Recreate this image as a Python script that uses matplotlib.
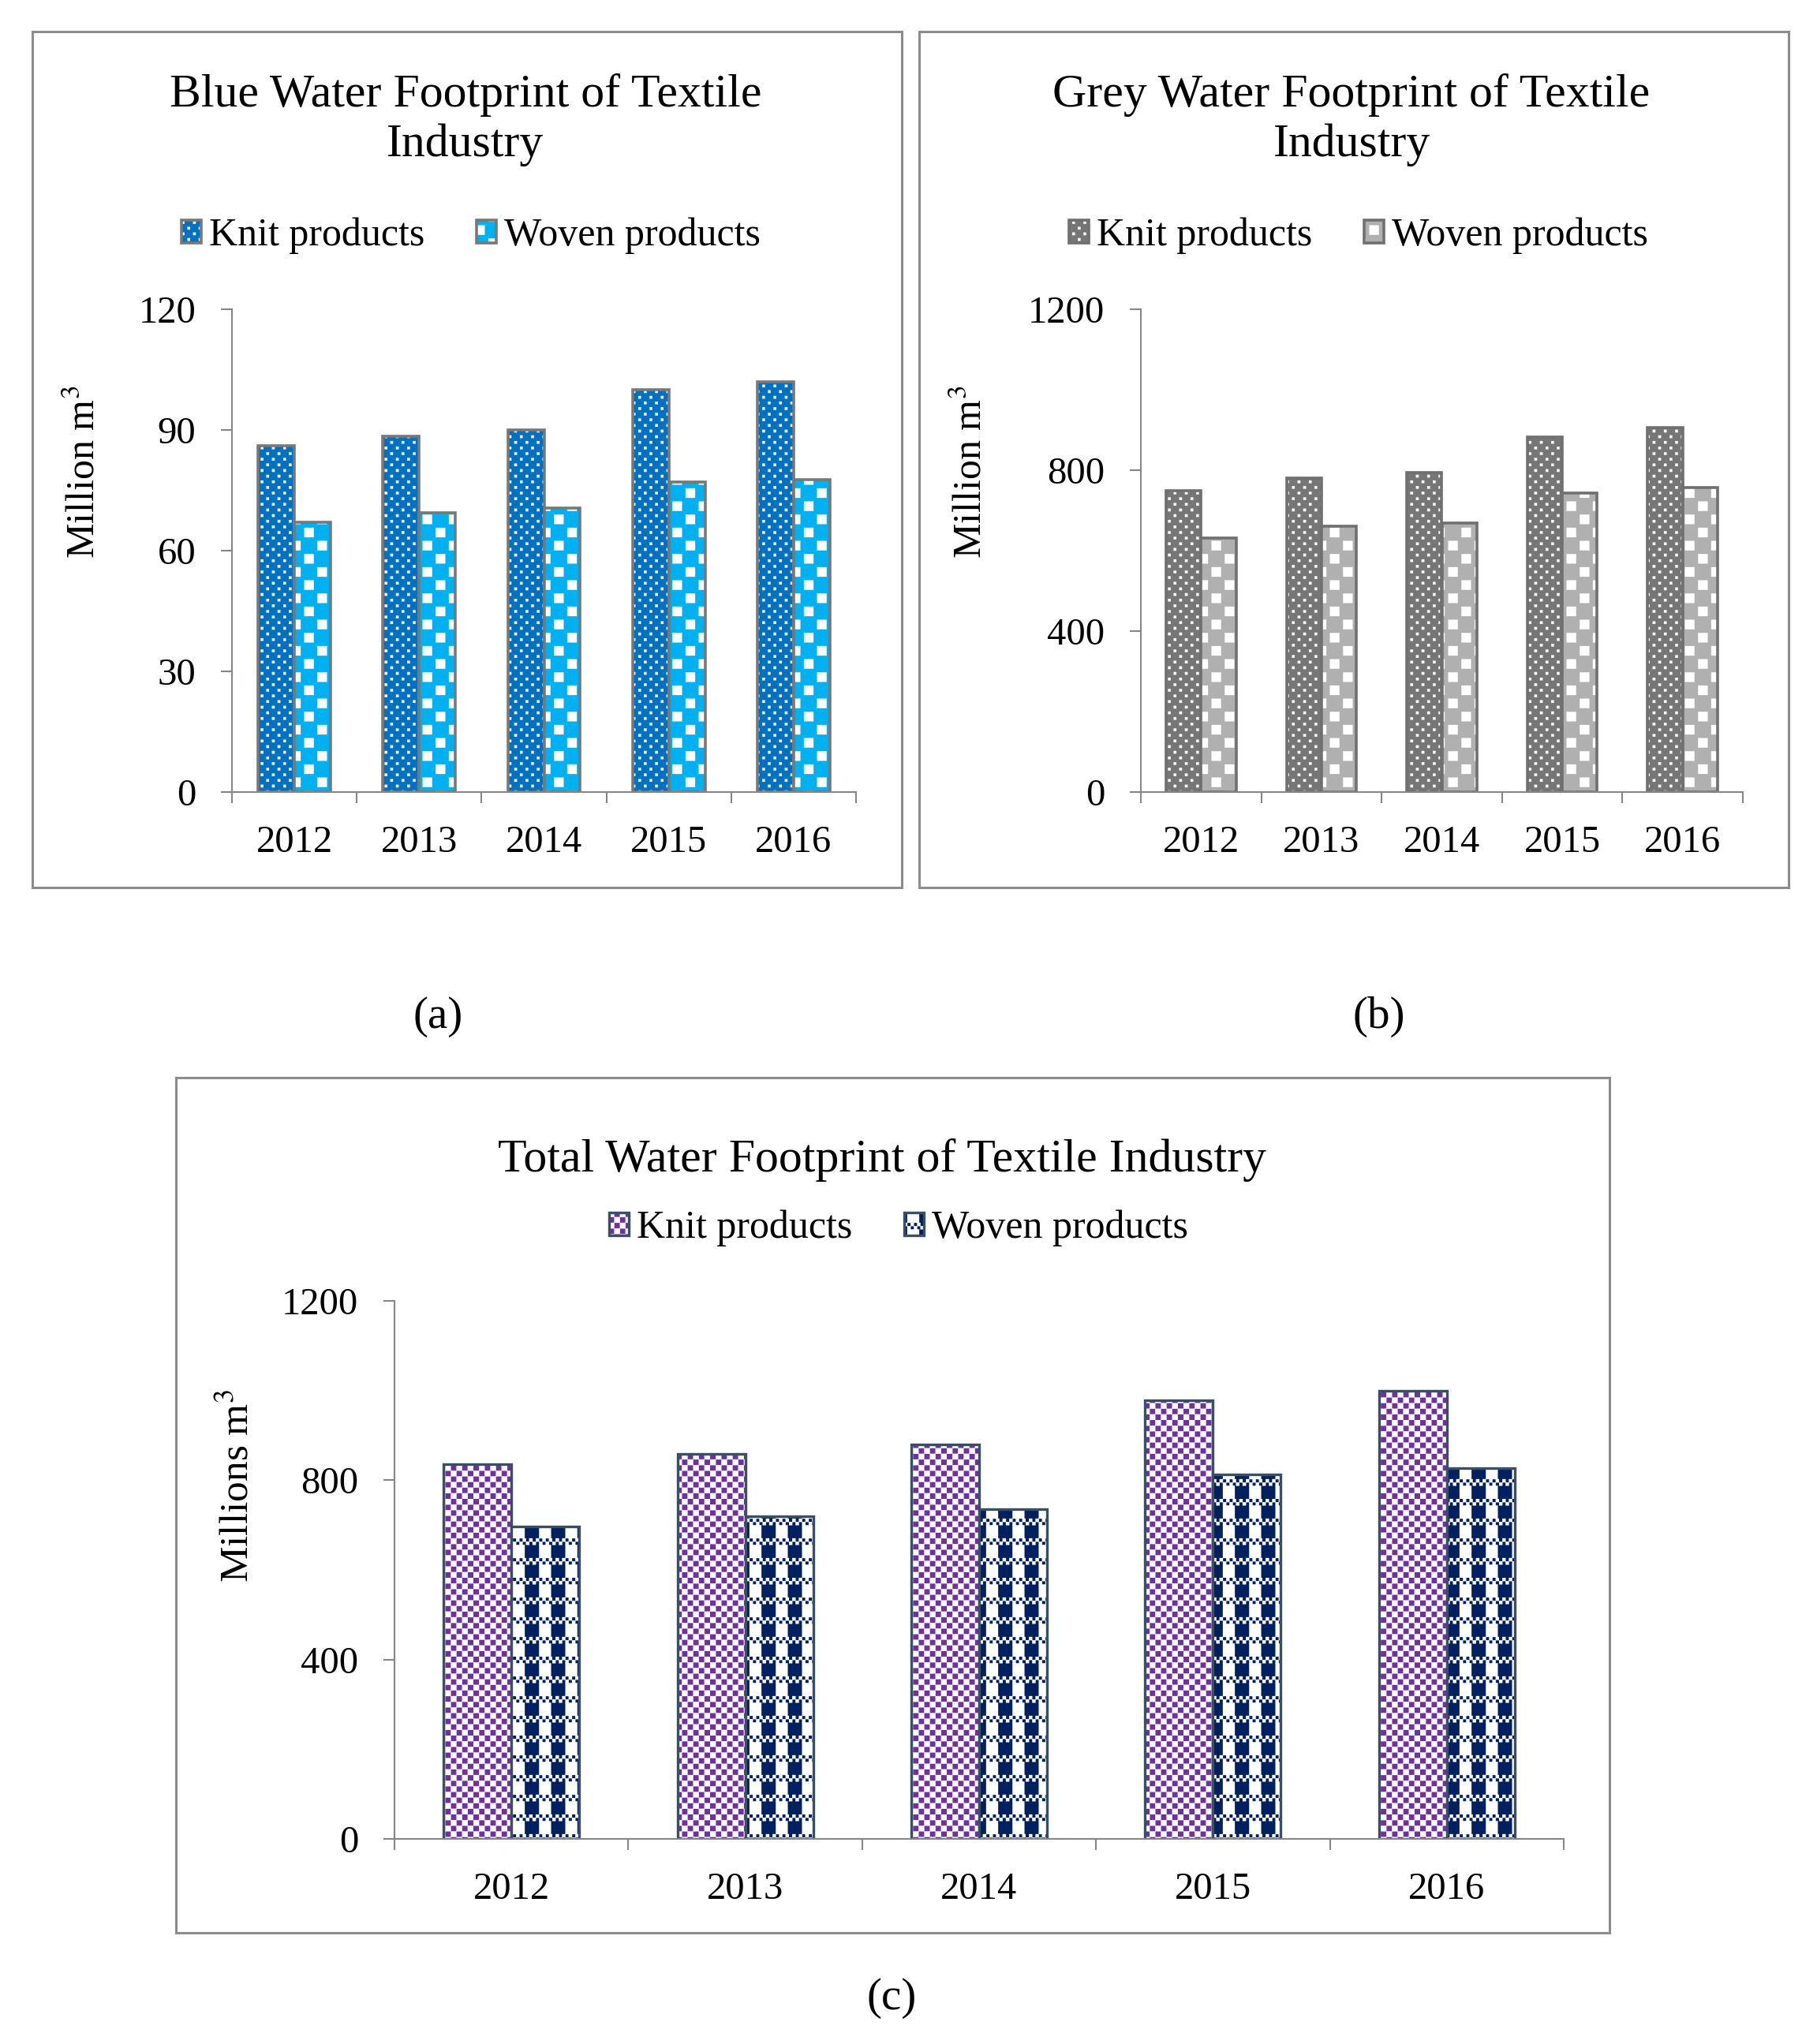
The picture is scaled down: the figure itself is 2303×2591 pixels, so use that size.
import numpy as np
import matplotlib
matplotlib.use("Agg")
import matplotlib.pyplot as plt
import matplotlib.hatch as mhatch
from matplotlib.patches import Rectangle
from matplotlib.path import Path

# ---- DATA ----
years = ["2012", "2013", "2014", "2015", "2016"]
series_names = ["Knit products", "Woven products"]

blue_knit = [86, 88.5, 90, 100, 102]
blue_woven = [67, 69.5, 70.5, 77, 77.7]

grey_knit = [750, 780, 794, 883, 905]
grey_woven = [632, 660, 669, 743, 757]

total_knit = [835, 859, 879, 978, 999]
total_woven = [696, 720, 735, 813, 827]

# ---- SETTINGS ----
W, H = 2303, 2591          # output size in pixels
DPI = 100
BAR_W = 0.29
AXIS_GREY = "#868686"
FRAME_GREY = "#8c8c8c"

plt.rcParams["font.family"] = ["Liberation Serif", "DejaVu Serif"]
plt.rcParams["mathtext.fontset"] = "stix"
plt.rcParams["hatch.linewidth"] = 0.2

# ---- Excel-like pattern fills ----
# hatch strings made only of "*" are drawn as white squares instead of stars
# (kind, cells per hatch tile, square size as part of a cell)
PATTERNS = {
    "*": ("checker", 14, 0.46),    # small dots
    "**": ("checker", 6, 0.72),    # large checks
    "***": ("checker", 14, 1.0),   # fine checker board
    "****": ("plaid", 3, 0.45),    # stripes with small check bands
}


class SquareFill(mhatch.HatchPatternBase):
    def __init__(self, hatch, density):
        kind, n, f = PATTERNS.get(hatch, (None, 0, 0))
        sq = []
        if kind == "checker":
            c = 1.0 / n
            for i in range(n):
                for j in range(n):
                    if (i + j) % 2 == 0:
                        sq.append(((i + 0.5 - f / 2) * c, (j + 0.5 - f / 2) * c, f * c, f * c))
        elif kind == "plaid":
            c = 1.0 / n
            rows = 4
            ch = 1.0 / rows
            s = c / 8
            for i in range(n):
                for j in range(rows):
                    y0 = j * ch
                    sq.append((i * c + c / 2, y0, f * c, ch - 2 * s))
                    for k in range(8):
                        sq.append((i * c + k * s, y0 + ch - 2 * s + (k % 2) * s, s, s))
        self.squares = sq
        self.num_vertices = 5 * len(sq)

    def set_vertices_and_codes(self, vertices, codes):
        for k, (x0, y0, w, h) in enumerate(self.squares):
            vertices[5 * k:5 * k + 5] = [(x0, y0), (x0 + w, y0), (x0 + w, y0 + h),
                                         (x0, y0 + h), (x0, y0)]
            codes[5 * k:5 * k + 5] = [Path.MOVETO, Path.LINETO, Path.LINETO,
                                      Path.LINETO, Path.CLOSEPOLY]


if hasattr(mhatch, "_hatch_types"):
    mhatch._hatch_types[:] = [t for t in mhatch._hatch_types if t is not mhatch.Stars] + [SquareFill]


# ---- helpers ----
def px_rect(x0, y_top, x1, y_bottom):
    return [x0 / W, 1 - y_bottom / H, (x1 - x0) / W, (y_bottom - y_top) / H]


def frame(x0, y_top, x1, y_bottom):
    fig.add_artist(Rectangle((x0 / W, 1 - y_bottom / H), (x1 - x0) / W, (y_bottom - y_top) / H,
                             transform=fig.transFigure, fill=False,
                             edgecolor=FRAME_GREY, linewidth=2.2))


def grouped_bars(ax, knit, woven, colors, hatches, edge, lw):
    x = np.arange(len(years))
    handles = []
    for offset, vals, color, hatch in zip((-BAR_W / 2, BAR_W / 2), (knit, woven), colors, hatches):
        # white pattern on coloured face (hatch colour follows edgecolor)
        fill = ax.bar(x + offset, vals, BAR_W, color=color, hatch=hatch,
                      edgecolor="white", linewidth=0)
        line = ax.bar(x + offset, vals, BAR_W, fill=False, edgecolor=edge, linewidth=lw)
        handles.append((fill, line))
    return handles


def style_axes(ax, ymax, step):
    ax.set_xlim(-0.5, len(years) - 0.5)
    ax.set_ylim(0, ymax)
    ax.set_yticks(np.arange(0, ymax + 1, step))
    ax.set_xticks(np.arange(-0.5, len(years), 1))
    ax.set_xticklabels([])
    ax.set_xticks(np.arange(len(years)), minor=True)
    ax.set_xticklabels(years, minor=True)
    ax.tick_params(axis="x", which="minor", length=0, pad=30, labelsize=35)
    ax.tick_params(axis="x", which="major", length=10, width=1.5, color=AXIS_GREY)
    ax.tick_params(axis="y", length=10, width=1.5, color=AXIS_GREY, pad=23, labelsize=35)
    for s in ["top", "right"]:
        ax.spines[s].set_visible(False)
    for s in ["left", "bottom"]:
        ax.spines[s].set_color(AXIS_GREY)
        ax.spines[s].set_linewidth(1.5)
    ax.patch.set_alpha(0)


def legend(ax, handles, cx, cy, size=36):
    ax.legend(handles, series_names, loc="center",
              bbox_to_anchor=(cx / W, 1 - cy / H), bbox_transform=fig.transFigure,
              ncol=2, frameon=False, fontsize=size, handlelength=0.5, handleheight=0.5,
              handletextpad=0.2, columnspacing=1.3, borderpad=0, borderaxespad=0)


# ---- FIGURE ----
fig = plt.figure(figsize=(W / DPI, H / DPI), dpi=DPI)

# (a) blue water footprint
frame(41, 40, 1143, 1125)
ax_a = fig.add_axes(px_rect(294, 392, 1085, 1004))
h_a = grouped_bars(ax_a, blue_knit, blue_woven, ["#0070c0", "#00b0f0"], ["*", "**"], "#787878", 2.6)
style_axes(ax_a, 120, 30)
legend(ax_a, h_a, 597, 299)
fig.text(590 / W, 1 - 198 / H, "Blue Water Footprint of Textile\nIndustry",
         ha="center", va="baseline", fontsize=43)
fig.text(107 / W, 1 - 598 / H, "Million m$^{3}$", rotation=90, ha="center", va="center", fontsize=36)
fig.text(555 / W, 1 - 1289 / H, "(a)", ha="center", va="center", fontsize=41)

# (b) grey water footprint
frame(1165, 40, 2267, 1125)
ax_b = fig.add_axes(px_rect(1446, 392, 2209, 1004))
h_b = grouped_bars(ax_b, grey_knit, grey_woven, ["#767676", "#b0b0b0"], ["*", "**"], "#707070", 2.6)
style_axes(ax_b, 1200, 400)
legend(ax_b, h_b, 1722, 299)
fig.text(1713 / W, 1 - 198 / H, "Grey Water Footprint of Textile\nIndustry",
         ha="center", va="baseline", fontsize=43)
fig.text(1231 / W, 1 - 598 / H, "Million m$^{3}$", rotation=90, ha="center", va="center", fontsize=36)
fig.text(1748 / W, 1 - 1289 / H, "(b)", ha="center", va="center", fontsize=41)

# (c) total water footprint
frame(223, 1366, 2040, 2450)
ax_c = fig.add_axes(px_rect(500, 1649, 1982, 2331))
h_c = grouped_bars(ax_c, total_knit, total_woven, ["#7030a0", "#002060"], ["***", "****"], "#3a4f63", 2.4)
style_axes(ax_c, 1200, 400)
legend(ax_c, h_c, 1139, 1557)
fig.text(1118 / W, 1 - 1485 / H, "Total Water Footprint of Textile Industry",
         ha="center", va="baseline", fontsize=43)
fig.text(302 / W, 1 - 1883 / H, "Millions m$^{3}$", rotation=90, ha="center", va="center", fontsize=37)
fig.text(1130 / W, 1 - 2533 / H, "(c)", ha="center", va="center", fontsize=41)

fig.savefig("out.png", dpi=DPI)
